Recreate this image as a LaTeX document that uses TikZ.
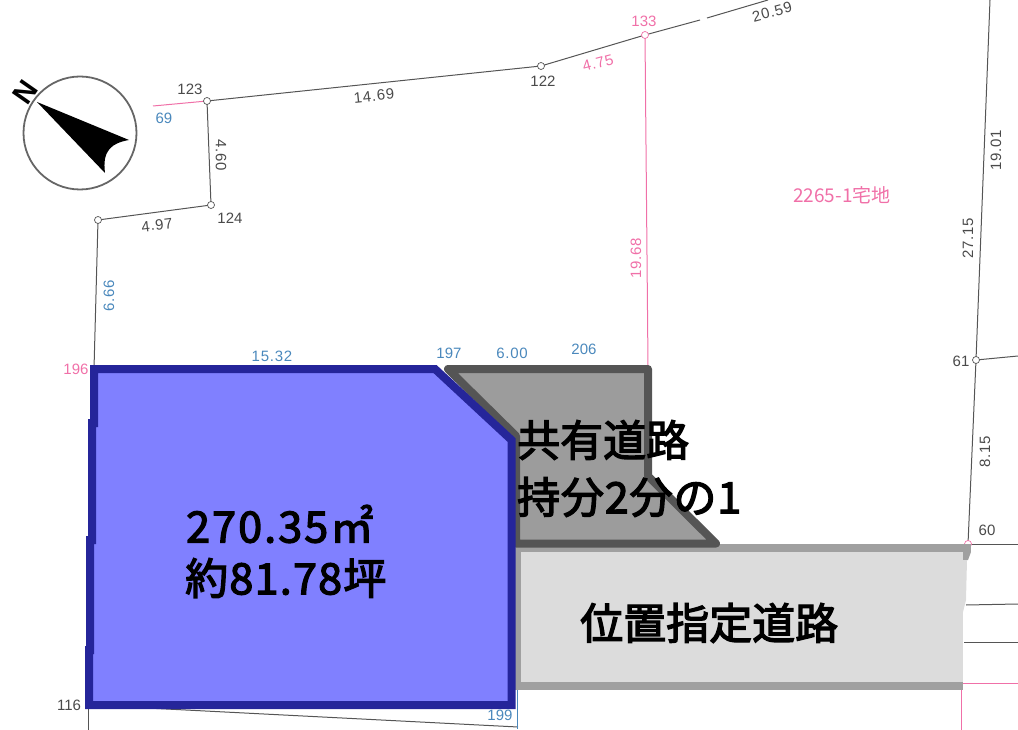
\documentclass[tikz,border=0pt]{standalone}
\usepackage{fontspec}
\setmainfont{Liberation Sans}
\newfontfamily\jpf[FakeBold=3]{Noto Sans CJK JP}
\newfontfamily\jpthin{Noto Sans CJK JP}
\newfontfamily\dimf[LetterSpace=5]{Liberation Sans}
\tikzset{
  x=1pt,y=-1pt,
  survey/.style={draw=linegray,line width=1pt},
  pinkline/.style={draw=pinkc,line width=1pt},
  bluelot/.style={draw=lotedge,fill=lotfill,line width=8pt,line join=miter},
  sharedlot/.style={draw=sharededge,fill=sharedfill,line width=8pt,line join=round},
  pt/.style={circle,draw=linegray,fill=white,line width=.7pt,inner sep=0pt,minimum size=7pt},
  ptpink/.style={pt,draw=pinkc},
  num/.style={font=\fontsize{15}{15}\selectfont,text=numgray,inner sep=0pt},
  numblue/.style={num,text=blueC},
  numpink/.style={num,text=pinkc},
  dimgray/.style={num,font=\dimf\fontsize{15}{15}\selectfont},
  dimblue/.style={numblue,font=\dimf\fontsize{15}{15}\selectfont},
  dimpink/.style={numpink,font=\dimf\fontsize{15}{15}\selectfont},
  big/.style={font=\jpf\fontsize{43}{43}\selectfont,text=black,inner sep=0pt,anchor=west},
}
\definecolor{linegray}{HTML}{555555}
\definecolor{numgray}{HTML}{4A4A4A}
\definecolor{pinkc}{HTML}{F070A8}
\definecolor{blueC}{HTML}{4A88BC}
\definecolor{lotedge}{HTML}{25259A}
\definecolor{lotfill}{HTML}{8080FF}
\definecolor{sharededge}{HTML}{555555}
\definecolor{sharedfill}{HTML}{9C9C9C}
\definecolor{roadstroke}{HTML}{A0A0A0}
\definecolor{roadfill}{HTML}{DCDCDC}
\begin{document}
\begin{tikzpicture}
\useasboundingbox (0,0) rectangle (1018,730);
% survey points
\coordinate (p123) at (207,101);
\coordinate (p122) at (541,66);
\coordinate (p133) at (645,35);
\coordinate (p124) at (211,205);
\coordinate (p98) at (98,220);
\coordinate (p196) at (94,369);
\coordinate (p61) at (976,360);
\coordinate (p60) at (968,544);
\coordinate (p116) at (88,705);
% thin survey lines
\draw[survey] (p123) -- (p122) -- (p133) -- (700,20);
\draw[survey] (707,18) -- (768,0);
\draw[survey] (p123) -- (p124) -- (p98) -- (p196);
\draw[pinkline] (153,106) -- (p123);
\draw[pinkline] (p133) -- (648,366);
\draw[survey] (990,0) -- (p61) -- (p60);
\draw[survey] (p61) -- (1018,356);
\draw[survey] (p60) -- (1018,544);
\draw[survey] (966,605) -- (1018,604);
\draw[survey] (964,642) -- (1018,642);
\draw[pinkline] (963,683) -- (1018,683);
\draw[pinkline] (961,688) -- (961,730);
\draw[survey] (p116) -- (88,730);
\draw[survey] (p116) -- (518,727);
\draw[draw=blueC,line width=1pt] (517.5,688) -- (517.5,729);
% points
\node[pt] (n123) at (p123) {};
\node[pt] (n122) at (p122) {};
\node[ptpink] (n133) at (p133) {};
\node[pt] (n124) at (p124) {};
\node[pt] (n98) at (p98) {};
\node[pt] (n61) at (p61) {};
\node[ptpink] (n60) at (p60) {};
% compass
\node[circle,draw=linegray!90,line width=1.8pt,minimum size=113pt,inner sep=0pt] (compass) at (80,133) {};
\fill[black] (37,102) -- (129,140) .. controls (112,143) and (102,150) .. (105,173) -- cycle;
\node[font=\bfseries\fontsize{29}{29}\selectfont,rotate=55,inner sep=0pt] (north) at (25,92) {N};
% position-designated road
\fill[roadstroke] (515,544) rectangle (971,552);
\fill[roadstroke] (515,682) rectangle (963,690);
\fill[roadstroke] (515,544) rectangle (521,690);
\fill[roadfill] (521,552) rectangle (963,682);
\fill[roadstroke] (963,552) -- (971,552) -- (968,560) -- (963,560) -- cycle;
\fill[roadfill] (963,560) -- (967,560) -- (966,600) -- (963,612) -- cycle;
% shared lot
\draw[sharedlot] (448,369) -- (648,369) -- (648,476) -- (716,543.5) -- (516,543.5) -- (516,436) -- cycle;
% main lot
\draw[bluelot] (94,369) -- (435,369) -- (511.5,440) -- (511.5,705) -- (89,705) -- (89,650) -- (90,650) -- (90,540) -- (92,540) -- (92,423) -- (94,423) -- cycle;
% numbers
\node[num] (t123) at (190,89) {123};
\node[num] (t122) at (543,81) {122};
\node[num] (t124) at (230,218) {124};
\node[num] (t61) at (961,361) {61};
\node[num] (t60) at (987,530) {60};
\node[num] (t116) at (69,705) {116};
\node[dimgray,rotate=6] (d1469) at (374,96) {14.69};
\node[dimgray,rotate=-90] (d460) at (221,155) {4.60};
\node[dimgray,rotate=7] (d497) at (157,225) {4.97};
\node[dimgray,rotate=15] (d2059) at (772,12) {20.59};
\node[dimgray,rotate=90] (d2715) at (968,238) {27.15};
\node[dimgray,rotate=90] (d1901) at (996,150) {19.01};
\node[dimgray,rotate=90] (d815) at (985,452) {8.15};
\node[numblue] (t69) at (164,118) {69};
\node[dimblue,rotate=90] (d666) at (109,296) {6.66};
\node[dimblue] (d1532) at (272,356) {15.32};
\node[numblue] (t197) at (449,353) {197};
\node[dimblue] (d600) at (512,353) {6.00};
\node[numblue] (t206) at (584,349) {206};
\node[numblue] (t199) at (500,715) {199};
\node[numpink] (t196) at (76,369) {196};
\node[numpink] (t133) at (644,21) {133};
\node[dimpink,rotate=15] (d475) at (598,63) {4.75};
\node[dimpink,rotate=90] (d1968) at (636,258) {19.68};
\node[numpink,font=\jpthin\fontsize{19}{19}\selectfont] (t2265) at (842,195) {2265-1宅地};
% big labels
\node[big] (shared1) at (517,440) {共有道路};
\node[big] (shared2) at (517,497) {\addfontfeature{LetterSpace=2}持分2分の1};
\node[big] (area1) at (186,524) {\addfontfeature{LetterSpace=5}270.35㎡};
\node[big] (area2) at (185,578) {\addfontfeature{LetterSpace=3}約81.78坪};
\node[big] (road) at (580,623) {位置指定道路};
\end{tikzpicture}
\end{document}
